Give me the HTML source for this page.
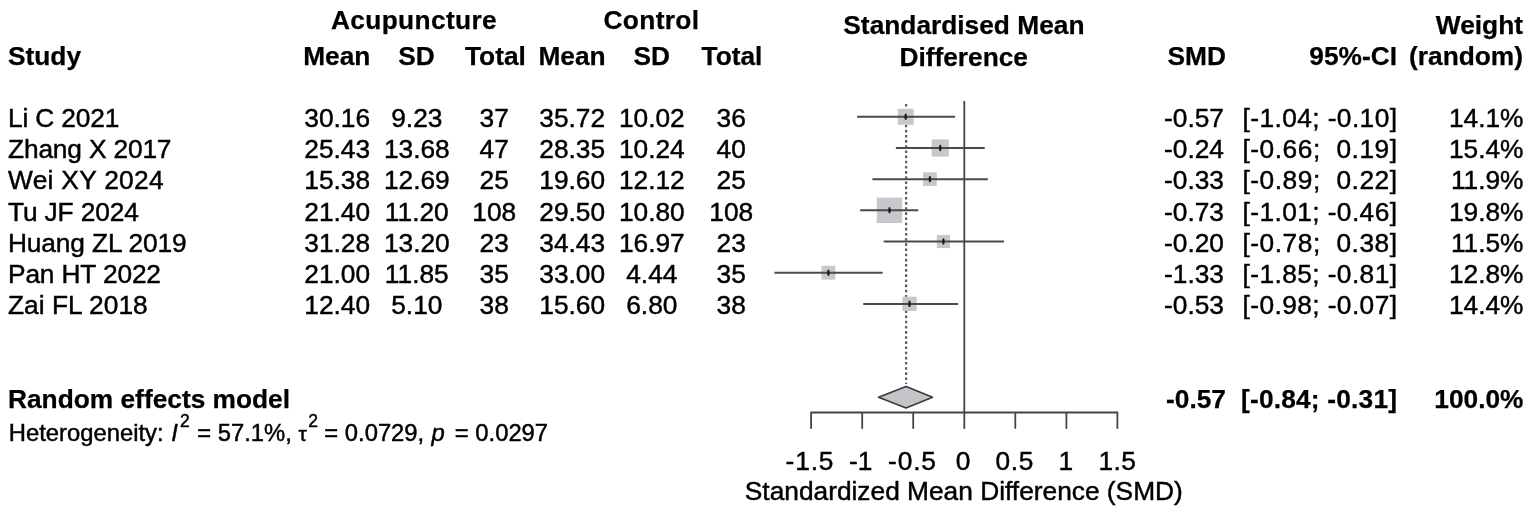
<!DOCTYPE html><html><head><meta charset="utf-8"><title>Forest plot</title><style>
html,body{margin:0;padding:0;background:#fff;}svg{display:block;}
text{font-family:"Liberation Sans",Arial,sans-serif;fill:#000;white-space:pre;stroke:#000;stroke-width:0.45px;}
.b{font-weight:bold;stroke-width:0.25px;}.m{text-anchor:middle;}.e{text-anchor:end;}
</style></head><body>
<svg width="1535" height="515" viewBox="0 0 1535 515">
<rect width="1535" height="515" fill="#fff"/>
<g font-size="26.3">
<text class="b m" x="413.8" y="29" textLength="165.8" lengthAdjust="spacing">Acupuncture</text>
<text class="b m" x="651.3" y="29" textLength="95.6" lengthAdjust="spacing">Control</text>
<text class="b m" x="963.9" y="34.2">Standardised Mean</text>
<text class="b m" x="963.7" y="66">Difference</text>
<text class="b e" x="1523" y="34.2">Weight</text>
<text class="b" x="8" y="65">Study</text>
<text class="b m" x="336.8" y="65">Mean</text>
<text class="b m" x="416.6" y="65">SD</text>
<text class="b m" x="495.4" y="65">Total</text>
<text class="b m" x="572.1" y="65">Mean</text>
<text class="b m" x="651.8" y="65">SD</text>
<text class="b m" x="732.0" y="65">Total</text>
<text class="b e" x="1226" y="65">SMD</text>
<text class="b e" x="1397" y="65">95%-CI</text>
<text class="b e" x="1523" y="65">(random)</text>
</g>
<g font-size="26.3">
<text x="8" y="127" textLength="111.3" lengthAdjust="spacing">Li C 2021</text>
<text class="m" x="337.2" y="127">30.16</text>
<text class="m" x="416.8" y="127">9.23</text>
<text class="m" x="494.2" y="127">37</text>
<text class="m" x="572.2" y="127">35.72</text>
<text class="m" x="651.8" y="127">10.02</text>
<text class="m" x="731.2" y="127">36</text>
<text class="e" x="1224" y="127">-0.57</text>
<text class="e" x="1397" y="127" textLength="154.5" lengthAdjust="spacing">[-1.04; -0.10]</text>
<text class="e" x="1523.5" y="127">14.1%</text>
<text x="8" y="158" textLength="163.5" lengthAdjust="spacing">Zhang X 2017</text>
<text class="m" x="337.2" y="158">25.43</text>
<text class="m" x="416.8" y="158">13.68</text>
<text class="m" x="494.2" y="158">47</text>
<text class="m" x="572.2" y="158">28.35</text>
<text class="m" x="651.8" y="158">10.24</text>
<text class="m" x="731.2" y="158">40</text>
<text class="e" x="1224" y="158">-0.24</text>
<text class="e" x="1397" y="158" textLength="154.5" lengthAdjust="spacing">[-0.66;  0.19]</text>
<text class="e" x="1523.5" y="158">15.4%</text>
<text x="8" y="189" textLength="155.6" lengthAdjust="spacing">Wei XY 2024</text>
<text class="m" x="337.2" y="189">15.38</text>
<text class="m" x="416.8" y="189">12.69</text>
<text class="m" x="494.2" y="189">25</text>
<text class="m" x="572.2" y="189">19.60</text>
<text class="m" x="651.8" y="189">12.12</text>
<text class="m" x="731.2" y="189">25</text>
<text class="e" x="1224" y="189">-0.33</text>
<text class="e" x="1397" y="189" textLength="154.5" lengthAdjust="spacing">[-0.89;  0.22]</text>
<text class="e" x="1523.5" y="189">11.9%</text>
<text x="8" y="221" textLength="130.8" lengthAdjust="spacing">Tu JF 2024</text>
<text class="m" x="337.2" y="221">21.40</text>
<text class="m" x="416.8" y="221">11.20</text>
<text class="m" x="494.2" y="221">108</text>
<text class="m" x="572.2" y="221">29.50</text>
<text class="m" x="651.8" y="221">10.80</text>
<text class="m" x="731.2" y="221">108</text>
<text class="e" x="1224" y="221">-0.73</text>
<text class="e" x="1397" y="221" textLength="154.5" lengthAdjust="spacing">[-1.01; -0.46]</text>
<text class="e" x="1523.5" y="221">19.8%</text>
<text x="8" y="252" textLength="178.7" lengthAdjust="spacing">Huang ZL 2019</text>
<text class="m" x="337.2" y="252">31.28</text>
<text class="m" x="416.8" y="252">13.20</text>
<text class="m" x="494.2" y="252">23</text>
<text class="m" x="572.2" y="252">34.43</text>
<text class="m" x="651.8" y="252">16.97</text>
<text class="m" x="731.2" y="252">23</text>
<text class="e" x="1224" y="252">-0.20</text>
<text class="e" x="1397" y="252" textLength="154.5" lengthAdjust="spacing">[-0.78;  0.38]</text>
<text class="e" x="1523.5" y="252">11.5%</text>
<text x="8" y="283" textLength="153.0" lengthAdjust="spacing">Pan HT 2022</text>
<text class="m" x="337.2" y="283">21.00</text>
<text class="m" x="416.8" y="283">11.85</text>
<text class="m" x="494.2" y="283">35</text>
<text class="m" x="572.2" y="283">33.00</text>
<text class="m" x="651.8" y="283">4.44</text>
<text class="m" x="731.2" y="283">35</text>
<text class="e" x="1224" y="283">-1.33</text>
<text class="e" x="1397" y="283" textLength="154.5" lengthAdjust="spacing">[-1.85; -0.81]</text>
<text class="e" x="1523.5" y="283">12.8%</text>
<text x="8" y="314" textLength="139.7" lengthAdjust="spacing">Zai FL 2018</text>
<text class="m" x="337.2" y="314">12.40</text>
<text class="m" x="416.8" y="314">5.10</text>
<text class="m" x="494.2" y="314">38</text>
<text class="m" x="572.2" y="314">15.60</text>
<text class="m" x="651.8" y="314">6.80</text>
<text class="m" x="731.2" y="314">38</text>
<text class="e" x="1224" y="314">-0.53</text>
<text class="e" x="1397" y="314" textLength="154.5" lengthAdjust="spacing">[-0.98; -0.07]</text>
<text class="e" x="1523.5" y="314">14.4%</text>
</g>
<g font-size="26.3">
<text class="b" x="8" y="407.5">Random effects model</text>
<text class="b e" x="1226" y="407.5">-0.57</text>
<text class="b e" x="1397" y="407.5" textLength="156" lengthAdjust="spacing">[-0.84; -0.31]</text>
<text class="b e" x="1523.5" y="407.5">100.0%</text>
</g>
<g font-size="23.8">
<text x="8.8" y="440.7">Heterogeneity:</text>
<text x="171.3" y="440.7" font-style="italic">I</text>
<text x="180" y="426.7" font-size="17.5">2</text>
<text x="197.2" y="440.7">= 57.1%,</text>
<text x="298.6" y="440.7" font-size="21" font-family="Liberation Serif,serif" fill="#222" stroke="none">τ</text>
<text x="308.2" y="427.09999999999997" font-size="17.5">2</text>
<text x="324.3" y="440.7">= 0.0729,</text>
<text x="431.5" y="440.7" font-style="italic">p</text>
<text x="454.8" y="440.7">= 0.0297</text>
</g>
<g stroke-linecap="butt">
<line x1="964.3" y1="101" x2="964.3" y2="413" stroke="#444" stroke-width="1.8"/>
<line x1="906.1" y1="104" x2="906.1" y2="384" stroke="#606060" stroke-width="2.3" stroke-dasharray="2.6 2.56"/>
<rect x="897.7" y="108.8" width="16.0" height="16.0" fill="#c7c8cc"/>
<line x1="858.1" y1="116.8" x2="954.1" y2="116.8" stroke="#4a4a4a" stroke-width="2" stroke-linecap="square"/>
<ellipse cx="905.7" cy="116.8" rx="1.2" ry="3.3" fill="#1a1a1a"/>
<rect x="931.6" y="139.4" width="17.2" height="17.2" fill="#c7c8cc"/>
<line x1="896.9" y1="148.0" x2="983.7" y2="148.0" stroke="#4a4a4a" stroke-width="2" stroke-linecap="square"/>
<ellipse cx="940.2" cy="148.0" rx="1.2" ry="3.3" fill="#1a1a1a"/>
<rect x="923.0" y="172.3" width="13.8" height="13.8" fill="#c7c8cc"/>
<line x1="873.4" y1="179.2" x2="986.8" y2="179.2" stroke="#4a4a4a" stroke-width="2" stroke-linecap="square"/>
<ellipse cx="929.9" cy="179.2" rx="1.2" ry="3.3" fill="#1a1a1a"/>
<rect x="876.8" y="197.6" width="25.4" height="25.4" fill="#c7c8cc"/>
<line x1="861.2" y1="210.3" x2="917.3" y2="210.3" stroke="#4a4a4a" stroke-width="2" stroke-linecap="square"/>
<ellipse cx="889.5" cy="210.3" rx="1.2" ry="3.3" fill="#1a1a1a"/>
<rect x="936.8" y="234.9" width="13.2" height="13.2" fill="#c7c8cc"/>
<line x1="884.7" y1="241.5" x2="1003.1" y2="241.5" stroke="#4a4a4a" stroke-width="2" stroke-linecap="square"/>
<ellipse cx="943.4" cy="241.5" rx="1.2" ry="3.3" fill="#1a1a1a"/>
<rect x="821.5" y="265.8" width="13.8" height="13.8" fill="#c7c8cc"/>
<line x1="775.4" y1="272.7" x2="881.6" y2="272.7" stroke="#4a4a4a" stroke-width="2" stroke-linecap="square"/>
<ellipse cx="828.4" cy="272.7" rx="1.2" ry="3.3" fill="#1a1a1a"/>
<rect x="902.4" y="296.7" width="14.3" height="14.3" fill="#c7c8cc"/>
<line x1="864.2" y1="303.9" x2="957.2" y2="303.9" stroke="#4a4a4a" stroke-width="2" stroke-linecap="square"/>
<ellipse cx="909.5" cy="303.9" rx="1.2" ry="3.3" fill="#1a1a1a"/>
<path d="M878.5 397.2 L906.1 386.4 L932.6 397.2 L906.1 408.0Z" fill="#c4c5c9" stroke="#3a3a3a" stroke-width="1.6" stroke-linejoin="round"/>
<path d="M811.1 428.8 V412.5 H1117.4 V428.8" fill="none" stroke="#444" stroke-width="1.8"/>
<line x1="862.2" y1="412.5" x2="862.2" y2="428.8" stroke="#444" stroke-width="1.8"/>
<line x1="913.2" y1="412.5" x2="913.2" y2="428.8" stroke="#444" stroke-width="1.8"/>
<line x1="964.3" y1="412.5" x2="964.3" y2="428.8" stroke="#444" stroke-width="1.8"/>
<line x1="1015.3" y1="412.5" x2="1015.3" y2="428.8" stroke="#444" stroke-width="1.8"/>
<line x1="1066.4" y1="412.5" x2="1066.4" y2="428.8" stroke="#444" stroke-width="1.8"/>
</g>
<g font-size="26.3">
<text class="m" x="809.5" y="470" textLength="48" lengthAdjust="spacing">-1.5</text>
<text class="m" x="860.7" y="470">-1</text>
<text class="m" x="912.0" y="470" textLength="48" lengthAdjust="spacing">-0.5</text>
<text class="m" x="963.1" y="470">0</text>
<text class="m" x="1014.5" y="470" textLength="38" lengthAdjust="spacing">0.5</text>
<text class="m" x="1065.9" y="470">1</text>
<text class="m" x="1117.2" y="470" textLength="37.4" lengthAdjust="spacing">1.5</text>
<text class="m" x="963.8" y="499.5">Standardized Mean Difference (SMD)</text>
</g>
</svg></body></html>
